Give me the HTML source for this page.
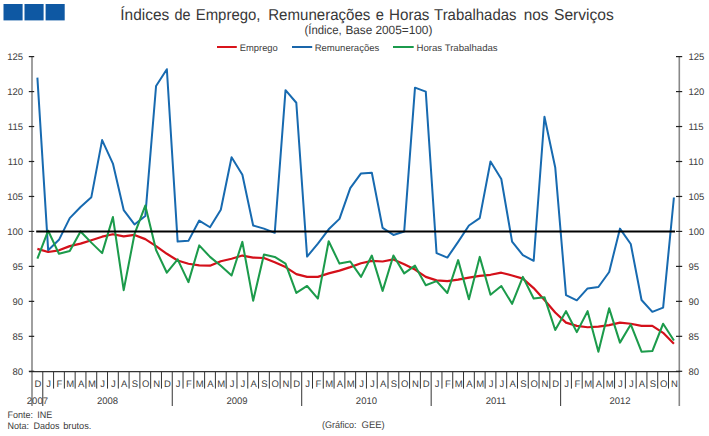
<!DOCTYPE html>
<html><head><meta charset="utf-8"><style>
html,body{margin:0;padding:0;background:#fff;}
body{width:709px;height:436px;overflow:hidden;}
svg{display:block;font-family:"Liberation Sans", sans-serif;text-rendering:geometricPrecision;}
svg text{white-space:pre;}
</style></head><body>
<svg width="709" height="436" viewBox="0 0 709 436">
<rect x="3.5" y="4" width="19.1" height="16.4" fill="#0E58A3"/>
<rect x="24.5" y="4" width="19.1" height="16.4" fill="#0E58A3"/>
<rect x="45.6" y="4" width="19.1" height="16.4" fill="#0E58A3"/>
<text x="120.32" y="19.80" font-size="15.8" fill="#383838" textLength="48.94" lengthAdjust="spacingAndGlyphs">Índices</text>
<text x="174.59" y="19.80" font-size="15.8" fill="#383838" textLength="16.04" lengthAdjust="spacingAndGlyphs">de</text>
<text x="195.76" y="19.80" font-size="15.8" fill="#383838" textLength="64.66" lengthAdjust="spacingAndGlyphs">Emprego,</text>
<text x="268.25" y="19.80" font-size="15.8" fill="#383838" textLength="102.07" lengthAdjust="spacingAndGlyphs">Remunerações</text>
<text x="375.77" y="19.80" font-size="15.8" fill="#383838" textLength="8.17" lengthAdjust="spacingAndGlyphs">e</text>
<text x="389.04" y="19.80" font-size="15.8" fill="#383838" textLength="40.39" lengthAdjust="spacingAndGlyphs">Horas</text>
<text x="434.10" y="19.80" font-size="15.8" fill="#383838" textLength="82.32" lengthAdjust="spacingAndGlyphs">Trabalhadas</text>
<text x="523.73" y="19.80" font-size="15.8" fill="#383838" textLength="24.74" lengthAdjust="spacingAndGlyphs">nos</text>
<text x="554.01" y="19.80" font-size="15.8" fill="#383838" textLength="59.86" lengthAdjust="spacingAndGlyphs">Serviços</text>
<text x="304.45" y="33.90" font-size="12" fill="#383838" textLength="37.35" lengthAdjust="spacingAndGlyphs">(Índice,</text>
<text x="345.40" y="33.90" font-size="12" fill="#383838" textLength="26.83" lengthAdjust="spacingAndGlyphs">Base</text>
<text x="375.40" y="33.90" font-size="12" fill="#383838" textLength="57.0" lengthAdjust="spacingAndGlyphs">2005=100)</text>
<line x1="217" y1="47" x2="236.8" y2="47" stroke="#D9141B" stroke-width="2"/>
<text x="239.80" y="50.70" font-size="9.5" fill="#404040" textLength="38" lengthAdjust="spacingAndGlyphs">Emprego</text>
<line x1="292" y1="47" x2="312.2" y2="47" stroke="#1A66AA" stroke-width="2"/>
<text x="314.70" y="50.70" font-size="9.5" fill="#404040" textLength="64.6" lengthAdjust="spacingAndGlyphs">Remunerações</text>
<line x1="393" y1="47" x2="413.7" y2="47" stroke="#1B9A4C" stroke-width="2"/>
<text x="416.60" y="50.70" font-size="9.5" fill="#404040" textLength="81" lengthAdjust="spacingAndGlyphs">Horas Trabalhadas</text>
<line x1="32.0" y1="56.6" x2="32.0" y2="406.0" stroke="#888" stroke-width="1.6"/>
<line x1="679.3" y1="56.6" x2="679.3" y2="406.0" stroke="#888" stroke-width="1.6"/>
<line x1="29" y1="371.6" x2="679.8" y2="371.6" stroke="#333" stroke-width="1.3"/>
<line x1="28.8" y1="371.30" x2="34.2" y2="371.30" stroke="#222" stroke-width="1.2"/>
<line x1="676" y1="371.30" x2="682.2" y2="371.30" stroke="#222" stroke-width="1.2"/>
<text x="23.00" y="374.70" font-size="9.5" fill="#404040" text-anchor="end">80</text>
<text x="688.50" y="374.70" font-size="9.5" fill="#404040">80</text>
<line x1="28.8" y1="336.33" x2="34.2" y2="336.33" stroke="#222" stroke-width="1.2"/>
<line x1="676" y1="336.33" x2="682.2" y2="336.33" stroke="#222" stroke-width="1.2"/>
<text x="23.00" y="339.73" font-size="9.5" fill="#404040" text-anchor="end">85</text>
<text x="688.50" y="339.73" font-size="9.5" fill="#404040">85</text>
<line x1="28.8" y1="301.37" x2="34.2" y2="301.37" stroke="#222" stroke-width="1.2"/>
<line x1="676" y1="301.37" x2="682.2" y2="301.37" stroke="#222" stroke-width="1.2"/>
<text x="23.00" y="304.77" font-size="9.5" fill="#404040" text-anchor="end">90</text>
<text x="688.50" y="304.77" font-size="9.5" fill="#404040">90</text>
<line x1="28.8" y1="266.40" x2="34.2" y2="266.40" stroke="#222" stroke-width="1.2"/>
<line x1="676" y1="266.40" x2="682.2" y2="266.40" stroke="#222" stroke-width="1.2"/>
<text x="23.00" y="269.80" font-size="9.5" fill="#404040" text-anchor="end">95</text>
<text x="688.50" y="269.80" font-size="9.5" fill="#404040">95</text>
<line x1="28.8" y1="231.43" x2="34.2" y2="231.43" stroke="#222" stroke-width="1.2"/>
<line x1="676" y1="231.43" x2="682.2" y2="231.43" stroke="#222" stroke-width="1.2"/>
<text x="23.00" y="234.83" font-size="9.5" fill="#404040" text-anchor="end">100</text>
<text x="688.50" y="234.83" font-size="9.5" fill="#404040">100</text>
<line x1="28.8" y1="196.47" x2="34.2" y2="196.47" stroke="#222" stroke-width="1.2"/>
<line x1="676" y1="196.47" x2="682.2" y2="196.47" stroke="#222" stroke-width="1.2"/>
<text x="23.00" y="199.87" font-size="9.5" fill="#404040" text-anchor="end">105</text>
<text x="688.50" y="199.87" font-size="9.5" fill="#404040">105</text>
<line x1="28.8" y1="161.50" x2="34.2" y2="161.50" stroke="#222" stroke-width="1.2"/>
<line x1="676" y1="161.50" x2="682.2" y2="161.50" stroke="#222" stroke-width="1.2"/>
<text x="23.00" y="164.90" font-size="9.5" fill="#404040" text-anchor="end">110</text>
<text x="688.50" y="164.90" font-size="9.5" fill="#404040">110</text>
<line x1="28.8" y1="126.53" x2="34.2" y2="126.53" stroke="#222" stroke-width="1.2"/>
<line x1="676" y1="126.53" x2="682.2" y2="126.53" stroke="#222" stroke-width="1.2"/>
<text x="23.00" y="129.93" font-size="9.5" fill="#404040" text-anchor="end">115</text>
<text x="688.50" y="129.93" font-size="9.5" fill="#404040">115</text>
<line x1="28.8" y1="91.57" x2="34.2" y2="91.57" stroke="#222" stroke-width="1.2"/>
<line x1="676" y1="91.57" x2="682.2" y2="91.57" stroke="#222" stroke-width="1.2"/>
<text x="23.00" y="94.97" font-size="9.5" fill="#404040" text-anchor="end">120</text>
<text x="688.50" y="94.97" font-size="9.5" fill="#404040">120</text>
<line x1="28.8" y1="56.60" x2="34.2" y2="56.60" stroke="#222" stroke-width="1.2"/>
<line x1="676" y1="56.60" x2="682.2" y2="56.60" stroke="#222" stroke-width="1.2"/>
<text x="23.00" y="60.00" font-size="9.5" fill="#404040" text-anchor="end">125</text>
<text x="688.50" y="60.00" font-size="9.5" fill="#404040">125</text>
<line x1="42.79" y1="371.6" x2="42.79" y2="406.0" stroke="#333" stroke-width="1.0"/>
<line x1="53.58" y1="371.6" x2="53.58" y2="388.6" stroke="#333" stroke-width="1.0"/>
<line x1="64.36" y1="371.6" x2="64.36" y2="388.6" stroke="#333" stroke-width="1.0"/>
<line x1="75.15" y1="371.6" x2="75.15" y2="388.6" stroke="#333" stroke-width="1.0"/>
<line x1="85.94" y1="371.6" x2="85.94" y2="388.6" stroke="#333" stroke-width="1.0"/>
<line x1="96.73" y1="371.6" x2="96.73" y2="388.6" stroke="#333" stroke-width="1.0"/>
<line x1="107.52" y1="371.6" x2="107.52" y2="388.6" stroke="#333" stroke-width="1.0"/>
<line x1="118.31" y1="371.6" x2="118.31" y2="388.6" stroke="#333" stroke-width="1.0"/>
<line x1="129.09" y1="371.6" x2="129.09" y2="388.6" stroke="#333" stroke-width="1.0"/>
<line x1="139.88" y1="371.6" x2="139.88" y2="388.6" stroke="#333" stroke-width="1.0"/>
<line x1="150.67" y1="371.6" x2="150.67" y2="388.6" stroke="#333" stroke-width="1.0"/>
<line x1="161.46" y1="371.6" x2="161.46" y2="388.6" stroke="#333" stroke-width="1.0"/>
<line x1="172.25" y1="371.6" x2="172.25" y2="406.0" stroke="#333" stroke-width="1.0"/>
<line x1="183.04" y1="371.6" x2="183.04" y2="388.6" stroke="#333" stroke-width="1.0"/>
<line x1="193.82" y1="371.6" x2="193.82" y2="388.6" stroke="#333" stroke-width="1.0"/>
<line x1="204.61" y1="371.6" x2="204.61" y2="388.6" stroke="#333" stroke-width="1.0"/>
<line x1="215.40" y1="371.6" x2="215.40" y2="388.6" stroke="#333" stroke-width="1.0"/>
<line x1="226.19" y1="371.6" x2="226.19" y2="388.6" stroke="#333" stroke-width="1.0"/>
<line x1="236.98" y1="371.6" x2="236.98" y2="388.6" stroke="#333" stroke-width="1.0"/>
<line x1="247.77" y1="371.6" x2="247.77" y2="388.6" stroke="#333" stroke-width="1.0"/>
<line x1="258.55" y1="371.6" x2="258.55" y2="388.6" stroke="#333" stroke-width="1.0"/>
<line x1="269.34" y1="371.6" x2="269.34" y2="388.6" stroke="#333" stroke-width="1.0"/>
<line x1="280.13" y1="371.6" x2="280.13" y2="388.6" stroke="#333" stroke-width="1.0"/>
<line x1="290.92" y1="371.6" x2="290.92" y2="388.6" stroke="#333" stroke-width="1.0"/>
<line x1="301.71" y1="371.6" x2="301.71" y2="406.0" stroke="#333" stroke-width="1.0"/>
<line x1="312.50" y1="371.6" x2="312.50" y2="388.6" stroke="#333" stroke-width="1.0"/>
<line x1="323.28" y1="371.6" x2="323.28" y2="388.6" stroke="#333" stroke-width="1.0"/>
<line x1="334.07" y1="371.6" x2="334.07" y2="388.6" stroke="#333" stroke-width="1.0"/>
<line x1="344.86" y1="371.6" x2="344.86" y2="388.6" stroke="#333" stroke-width="1.0"/>
<line x1="355.65" y1="371.6" x2="355.65" y2="388.6" stroke="#333" stroke-width="1.0"/>
<line x1="366.44" y1="371.6" x2="366.44" y2="388.6" stroke="#333" stroke-width="1.0"/>
<line x1="377.23" y1="371.6" x2="377.23" y2="388.6" stroke="#333" stroke-width="1.0"/>
<line x1="388.01" y1="371.6" x2="388.01" y2="388.6" stroke="#333" stroke-width="1.0"/>
<line x1="398.80" y1="371.6" x2="398.80" y2="388.6" stroke="#333" stroke-width="1.0"/>
<line x1="409.59" y1="371.6" x2="409.59" y2="388.6" stroke="#333" stroke-width="1.0"/>
<line x1="420.38" y1="371.6" x2="420.38" y2="388.6" stroke="#333" stroke-width="1.0"/>
<line x1="431.17" y1="371.6" x2="431.17" y2="406.0" stroke="#333" stroke-width="1.0"/>
<line x1="441.96" y1="371.6" x2="441.96" y2="388.6" stroke="#333" stroke-width="1.0"/>
<line x1="452.74" y1="371.6" x2="452.74" y2="388.6" stroke="#333" stroke-width="1.0"/>
<line x1="463.53" y1="371.6" x2="463.53" y2="388.6" stroke="#333" stroke-width="1.0"/>
<line x1="474.32" y1="371.6" x2="474.32" y2="388.6" stroke="#333" stroke-width="1.0"/>
<line x1="485.11" y1="371.6" x2="485.11" y2="388.6" stroke="#333" stroke-width="1.0"/>
<line x1="495.90" y1="371.6" x2="495.90" y2="388.6" stroke="#333" stroke-width="1.0"/>
<line x1="506.69" y1="371.6" x2="506.69" y2="388.6" stroke="#333" stroke-width="1.0"/>
<line x1="517.47" y1="371.6" x2="517.47" y2="388.6" stroke="#333" stroke-width="1.0"/>
<line x1="528.26" y1="371.6" x2="528.26" y2="388.6" stroke="#333" stroke-width="1.0"/>
<line x1="539.05" y1="371.6" x2="539.05" y2="388.6" stroke="#333" stroke-width="1.0"/>
<line x1="549.84" y1="371.6" x2="549.84" y2="388.6" stroke="#333" stroke-width="1.0"/>
<line x1="560.63" y1="371.6" x2="560.63" y2="406.0" stroke="#333" stroke-width="1.0"/>
<line x1="571.42" y1="371.6" x2="571.42" y2="388.6" stroke="#333" stroke-width="1.0"/>
<line x1="582.20" y1="371.6" x2="582.20" y2="388.6" stroke="#333" stroke-width="1.0"/>
<line x1="592.99" y1="371.6" x2="592.99" y2="388.6" stroke="#333" stroke-width="1.0"/>
<line x1="603.78" y1="371.6" x2="603.78" y2="388.6" stroke="#333" stroke-width="1.0"/>
<line x1="614.57" y1="371.6" x2="614.57" y2="388.6" stroke="#333" stroke-width="1.0"/>
<line x1="625.36" y1="371.6" x2="625.36" y2="388.6" stroke="#333" stroke-width="1.0"/>
<line x1="636.15" y1="371.6" x2="636.15" y2="388.6" stroke="#333" stroke-width="1.0"/>
<line x1="646.93" y1="371.6" x2="646.93" y2="388.6" stroke="#333" stroke-width="1.0"/>
<line x1="657.72" y1="371.6" x2="657.72" y2="388.6" stroke="#333" stroke-width="1.0"/>
<line x1="668.51" y1="371.6" x2="668.51" y2="388.6" stroke="#333" stroke-width="1.0"/>
<text x="37.89" y="387.10" font-size="9.5" fill="#404040" text-anchor="middle">D</text>
<text x="48.68" y="387.10" font-size="9.5" fill="#404040" text-anchor="middle">J</text>
<text x="59.47" y="387.10" font-size="9.5" fill="#404040" text-anchor="middle">F</text>
<text x="70.26" y="387.10" font-size="9.5" fill="#404040" text-anchor="middle">M</text>
<text x="81.05" y="387.10" font-size="9.5" fill="#404040" text-anchor="middle">A</text>
<text x="91.84" y="387.10" font-size="9.5" fill="#404040" text-anchor="middle">M</text>
<text x="102.62" y="387.10" font-size="9.5" fill="#404040" text-anchor="middle">J</text>
<text x="113.41" y="387.10" font-size="9.5" fill="#404040" text-anchor="middle">J</text>
<text x="124.20" y="387.10" font-size="9.5" fill="#404040" text-anchor="middle">A</text>
<text x="134.99" y="387.10" font-size="9.5" fill="#404040" text-anchor="middle">S</text>
<text x="145.78" y="387.10" font-size="9.5" fill="#404040" text-anchor="middle">O</text>
<text x="156.57" y="387.10" font-size="9.5" fill="#404040" text-anchor="middle">N</text>
<text x="167.35" y="387.10" font-size="9.5" fill="#404040" text-anchor="middle">D</text>
<text x="178.14" y="387.10" font-size="9.5" fill="#404040" text-anchor="middle">J</text>
<text x="188.93" y="387.10" font-size="9.5" fill="#404040" text-anchor="middle">F</text>
<text x="199.72" y="387.10" font-size="9.5" fill="#404040" text-anchor="middle">M</text>
<text x="210.51" y="387.10" font-size="9.5" fill="#404040" text-anchor="middle">A</text>
<text x="221.30" y="387.10" font-size="9.5" fill="#404040" text-anchor="middle">M</text>
<text x="232.08" y="387.10" font-size="9.5" fill="#404040" text-anchor="middle">J</text>
<text x="242.87" y="387.10" font-size="9.5" fill="#404040" text-anchor="middle">J</text>
<text x="253.66" y="387.10" font-size="9.5" fill="#404040" text-anchor="middle">A</text>
<text x="264.45" y="387.10" font-size="9.5" fill="#404040" text-anchor="middle">S</text>
<text x="275.24" y="387.10" font-size="9.5" fill="#404040" text-anchor="middle">O</text>
<text x="286.03" y="387.10" font-size="9.5" fill="#404040" text-anchor="middle">N</text>
<text x="296.81" y="387.10" font-size="9.5" fill="#404040" text-anchor="middle">D</text>
<text x="307.60" y="387.10" font-size="9.5" fill="#404040" text-anchor="middle">J</text>
<text x="318.39" y="387.10" font-size="9.5" fill="#404040" text-anchor="middle">F</text>
<text x="329.18" y="387.10" font-size="9.5" fill="#404040" text-anchor="middle">M</text>
<text x="339.97" y="387.10" font-size="9.5" fill="#404040" text-anchor="middle">A</text>
<text x="350.76" y="387.10" font-size="9.5" fill="#404040" text-anchor="middle">M</text>
<text x="361.54" y="387.10" font-size="9.5" fill="#404040" text-anchor="middle">J</text>
<text x="372.33" y="387.10" font-size="9.5" fill="#404040" text-anchor="middle">J</text>
<text x="383.12" y="387.10" font-size="9.5" fill="#404040" text-anchor="middle">A</text>
<text x="393.91" y="387.10" font-size="9.5" fill="#404040" text-anchor="middle">S</text>
<text x="404.70" y="387.10" font-size="9.5" fill="#404040" text-anchor="middle">O</text>
<text x="415.49" y="387.10" font-size="9.5" fill="#404040" text-anchor="middle">N</text>
<text x="426.27" y="387.10" font-size="9.5" fill="#404040" text-anchor="middle">D</text>
<text x="437.06" y="387.10" font-size="9.5" fill="#404040" text-anchor="middle">J</text>
<text x="447.85" y="387.10" font-size="9.5" fill="#404040" text-anchor="middle">F</text>
<text x="458.64" y="387.10" font-size="9.5" fill="#404040" text-anchor="middle">M</text>
<text x="469.43" y="387.10" font-size="9.5" fill="#404040" text-anchor="middle">A</text>
<text x="480.22" y="387.10" font-size="9.5" fill="#404040" text-anchor="middle">M</text>
<text x="491.00" y="387.10" font-size="9.5" fill="#404040" text-anchor="middle">J</text>
<text x="501.79" y="387.10" font-size="9.5" fill="#404040" text-anchor="middle">J</text>
<text x="512.58" y="387.10" font-size="9.5" fill="#404040" text-anchor="middle">A</text>
<text x="523.37" y="387.10" font-size="9.5" fill="#404040" text-anchor="middle">S</text>
<text x="534.16" y="387.10" font-size="9.5" fill="#404040" text-anchor="middle">O</text>
<text x="544.95" y="387.10" font-size="9.5" fill="#404040" text-anchor="middle">N</text>
<text x="555.73" y="387.10" font-size="9.5" fill="#404040" text-anchor="middle">D</text>
<text x="566.52" y="387.10" font-size="9.5" fill="#404040" text-anchor="middle">J</text>
<text x="577.31" y="387.10" font-size="9.5" fill="#404040" text-anchor="middle">F</text>
<text x="588.10" y="387.10" font-size="9.5" fill="#404040" text-anchor="middle">M</text>
<text x="598.89" y="387.10" font-size="9.5" fill="#404040" text-anchor="middle">A</text>
<text x="609.68" y="387.10" font-size="9.5" fill="#404040" text-anchor="middle">M</text>
<text x="620.46" y="387.10" font-size="9.5" fill="#404040" text-anchor="middle">J</text>
<text x="631.25" y="387.10" font-size="9.5" fill="#404040" text-anchor="middle">J</text>
<text x="642.04" y="387.10" font-size="9.5" fill="#404040" text-anchor="middle">A</text>
<text x="652.83" y="387.10" font-size="9.5" fill="#404040" text-anchor="middle">S</text>
<text x="663.62" y="387.10" font-size="9.5" fill="#404040" text-anchor="middle">O</text>
<text x="674.41" y="387.10" font-size="9.5" fill="#404040" text-anchor="middle">N</text>
<text x="37.39" y="403.80" font-size="9.5" fill="#404040" text-anchor="middle">2007</text>
<text x="107.52" y="403.80" font-size="9.5" fill="#404040" text-anchor="middle">2008</text>
<text x="236.98" y="403.80" font-size="9.5" fill="#404040" text-anchor="middle">2009</text>
<text x="366.44" y="403.80" font-size="9.5" fill="#404040" text-anchor="middle">2010</text>
<text x="495.90" y="403.80" font-size="9.5" fill="#404040" text-anchor="middle">2011</text>
<text x="619.96" y="403.80" font-size="9.5" fill="#404040" text-anchor="middle">2012</text>
<polyline points="37.39,77.58 48.18,250.32 58.97,239.83 69.76,218.15 80.55,206.96 91.34,197.17 102.12,140.10 112.91,163.60 123.70,210.10 134.49,224.44 145.28,216.05 156.07,85.97 166.85,69.19 177.64,241.57 188.43,240.87 199.22,220.59 210.01,227.24 220.80,209.75 231.58,157.30 242.37,174.79 253.16,225.49 263.95,228.64 274.74,232.83 285.53,90.17 296.31,102.76 307.10,256.61 317.89,243.67 328.68,229.34 339.47,218.85 350.26,188.07 361.04,173.39 371.83,172.69 382.62,227.94 393.41,234.93 404.20,231.43 414.99,87.65 425.77,91.57 436.56,253.11 447.35,257.59 458.14,241.92 468.93,225.49 479.72,218.15 490.50,161.50 501.29,178.98 512.08,241.57 522.87,255.21 533.66,260.81 544.45,116.74 555.23,167.44 566.02,295.07 576.81,300.32 587.60,288.43 598.39,287.03 609.18,271.99 619.96,228.64 630.75,244.02 641.54,299.97 652.33,311.86 663.12,307.66 673.91,197.52" fill="none" stroke="#176AB0" stroke-width="2.0" stroke-linejoin="round"/>
<polyline points="37.39,248.92 48.18,251.99 58.97,250.32 69.76,246.12 80.55,243.67 91.34,240.18 102.12,236.68 112.91,234.23 123.70,236.33 134.49,234.93 145.28,239.13 156.07,246.12 166.85,253.81 177.64,260.46 188.43,263.74 199.22,265.35 210.01,265.70 220.80,261.22 231.58,258.71 242.37,255.56 253.16,257.59 263.95,258.01 274.74,262.20 285.53,267.10 296.31,274.09 307.10,276.89 317.89,276.89 328.68,273.39 339.47,270.60 350.26,267.10 361.04,263.25 371.83,260.81 382.62,261.50 393.41,259.41 404.20,264.30 414.99,269.55 425.77,276.89 436.56,280.39 447.35,281.09 458.14,279.69 468.93,277.59 479.72,275.84 490.50,274.79 501.29,272.69 512.08,275.49 522.87,278.64 533.66,288.08 544.45,299.97 555.23,312.56 566.02,322.63 576.81,325.84 587.60,327.24 598.39,326.54 609.18,325.14 619.96,322.63 630.75,323.75 641.54,325.84 652.33,325.84 663.12,332.84 673.91,343.68" fill="none" stroke="#D4101A" stroke-width="2.2" stroke-linejoin="round"/>
<polyline points="37.39,258.71 48.18,230.73 58.97,253.81 69.76,251.01 80.55,231.43 91.34,242.62 102.12,253.11 112.91,217.10 123.70,290.18 134.49,234.23 145.28,205.56 156.07,249.97 166.85,272.69 177.64,259.41 188.43,282.13 199.22,245.42 210.01,256.89 220.80,265.70 231.58,275.49 242.37,241.92 253.16,300.67 263.95,254.51 274.74,256.89 285.53,263.60 296.31,292.97 307.10,285.98 317.89,298.57 328.68,241.22 339.47,263.60 350.26,261.50 361.04,276.89 371.83,255.56 382.62,290.88 393.41,255.56 404.20,273.39 414.99,265.70 425.77,285.28 436.56,281.09 447.35,292.97 458.14,260.11 468.93,299.27 479.72,256.89 490.50,294.79 501.29,285.98 512.08,303.81 522.87,276.89 533.66,298.57 544.45,297.17 555.23,330.04 566.02,311.16 576.81,332.14 587.60,311.16 598.39,351.72 609.18,308.36 619.96,342.63 630.75,324.44 641.54,351.72 652.33,351.02 663.12,323.75 673.91,340.53" fill="none" stroke="#1C9B4B" stroke-width="2.05" stroke-linejoin="round"/>
<line x1="36.19" y1="231.43" x2="675.11" y2="231.43" stroke="#000" stroke-width="2.1"/>
<text x="7.60" y="417.60" font-size="9.5" fill="#404040" textLength="25.5" lengthAdjust="spacingAndGlyphs">Fonte:</text>
<text x="37.20" y="417.60" font-size="9.5" fill="#404040" textLength="15.0" lengthAdjust="spacingAndGlyphs">INE</text>
<text x="7.60" y="428.80" font-size="9.5" fill="#404040" textLength="21.5" lengthAdjust="spacingAndGlyphs">Nota:</text>
<text x="33.40" y="428.80" font-size="9.5" fill="#404040" textLength="26.0" lengthAdjust="spacingAndGlyphs">Dados</text>
<text x="63.20" y="428.80" font-size="9.5" fill="#404040" textLength="28.2" lengthAdjust="spacingAndGlyphs">brutos.</text>
<text x="321.90" y="427.80" font-size="9.5" fill="#404040" textLength="34.5" lengthAdjust="spacingAndGlyphs">(Gráfico:</text>
<text x="361.50" y="427.80" font-size="9.5" fill="#404040" textLength="23.2" lengthAdjust="spacingAndGlyphs">GEE)</text>
</svg>
</body></html>
